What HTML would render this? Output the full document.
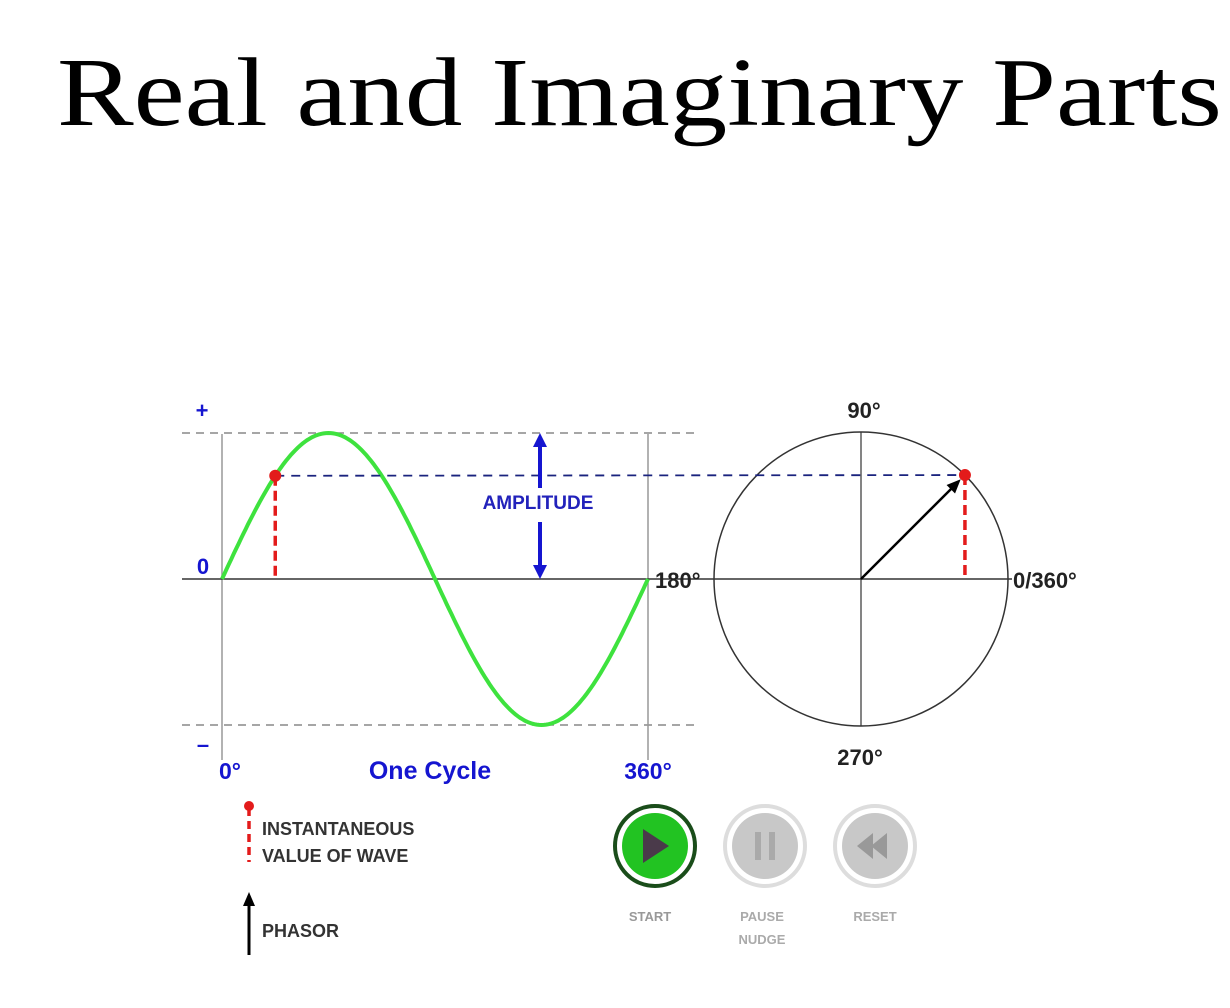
<!DOCTYPE html>
<html><head><meta charset="utf-8"><style>
html,body{margin:0;padding:0;background:#fff;}
svg{display:block;}
.b{font-family:"Liberation Sans",sans-serif;font-weight:bold;}
</style></head><body>
<svg id="c" width="1230" height="1008" viewBox="0 0 1230 1008" xmlns="http://www.w3.org/2000/svg">
<text x="57" y="125" font-family="Liberation Serif, serif" font-size="97" textLength="1165" lengthAdjust="spacingAndGlyphs" fill="#000">Real and Imaginary Parts</text>
<g id="plot"></g>
</svg>
<script>
const phaseDeg = [45];
const amplitude = [1];
const cycleTicks = ['0°', '360°'];
const circleLabels = ['90°', '180°', '270°', '0/360°'];

const NS = 'http://www.w3.org/2000/svg';
const g = document.getElementById('plot');
const x0 = 222, x1 = 648, y0 = 579, ampPx = 146;
const cx = 861, cy = 579, R = 147;
const xs = d => x0 + (d / 360) * (x1 - x0);
const ys = v => y0 - v * ampPx;
function mk(tag, attrs, txt) {
  const e = document.createElementNS(NS, tag);
  for (const k in attrs) e.setAttribute(k, attrs[k]);
  if (txt !== undefined) e.textContent = txt;
  g.appendChild(e);
  return e;
}
const A = amplitude[0];
const ph = phaseDeg[0];
let e;
// guides
e = mk('line', {x1: 182, y1: ys(A), x2: 695, y2: ys(A), stroke: '#888', 'stroke-width': 1.5, 'stroke-dasharray': '8 6'});
 
e = mk('line', {x1: 182, y1: ys(-A), x2: 695, y2: ys(-A), stroke: '#888', 'stroke-width': 1.5, 'stroke-dasharray': '8 6'});
 
e = mk('line', {x1: x0, y1: 434, x2: x0, y2: 760, stroke: '#999', 'stroke-width': 1.5});
 
e = mk('line', {x1: x1, y1: 434, x2: x1, y2: 760, stroke: '#999', 'stroke-width': 1.5});
 
e = mk('line', {x1: 182, y1: y0, x2: 1008, y2: y0, stroke: '#333', 'stroke-width': 1.5});
 
// circle
e = mk('circle', {cx: cx, cy: cy, r: R, fill: 'none', stroke: '#333', 'stroke-width': 1.5});
 
e = mk('line', {x1: cx, y1: cy - R, x2: cx, y2: cy + R, stroke: '#333', 'stroke-width': 1.2});
 
e = mk('line', {x1: 1008, y1: y0, x2: 1012, y2: y0, stroke: '#333', 'stroke-width': 1.5});
// wave
let d = '';
for (let a = 0; a <= 360; a += 2) d += (a ? 'L' : 'M') + xs(a).toFixed(1) + ' ' + ys(A * Math.sin(a * Math.PI / 180)).toFixed(1);
e = mk('path', {d: d, fill: 'none', stroke: '#3ee23e', 'stroke-width': 4});
 
// instantaneous value
const pv = A * Math.sin(ph * Math.PI / 180);
const px = xs(ph), py = ys(pv);
const qx = cx + R * A * Math.cos(ph * Math.PI / 180), qy = cy - R * A * Math.sin(ph * Math.PI / 180);
e = mk('line', {x1: px, y1: py, x2: qx, y2: qy, stroke: '#1a237e', 'stroke-width': 1.8, 'stroke-dasharray': '9 7'});
 
e = mk('line', {x1: px, y1: py, x2: px, y2: y0, stroke: '#e31b1b', 'stroke-width': 3.5, 'stroke-dasharray': '10 5'});
 
e = mk('line', {x1: qx, y1: qy, x2: qx, y2: y0, stroke: '#e31b1b', 'stroke-width': 3.5, 'stroke-dasharray': '10 5'});
 
// phasor arrow
const ang = Math.atan2(qy - cy, qx - cx);
const tx = qx - 6 * Math.cos(ang), ty = qy - 6 * Math.sin(ang);
e = mk('line', {x1: cx, y1: cy, x2: tx - 8 * Math.cos(ang), y2: ty - 8 * Math.sin(ang), stroke: '#000', 'stroke-width': 2.5});
 
const hl = 14, hw = 6;
const bx = tx - hl * Math.cos(ang), by = ty - hl * Math.sin(ang);
e = mk('polygon', {points: `${tx},${ty} ${bx + hw * Math.sin(ang)},${by - hw * Math.cos(ang)} ${bx - hw * Math.sin(ang)},${by + hw * Math.cos(ang)}`, fill: '#000'});
 
e = mk('circle', {cx: px, cy: py, r: 6, fill: '#e31b1b'});
 
e = mk('circle', {cx: qx, cy: qy, r: 6, fill: '#e31b1b'});
 
// amplitude arrow
const ax = 540;
e = mk('line', {x1: ax, y1: ys(A) + 10, x2: ax, y2: 488, stroke: '#1515d0', 'stroke-width': 4});
 
e = mk('polygon', {points: `${ax},${ys(A)} ${ax - 7},${ys(A) + 14} ${ax + 7},${ys(A) + 14}`, fill: '#1515d0'});
e = mk('line', {x1: ax, y1: 522, x2: ax, y2: y0 - 10, stroke: '#1515d0', 'stroke-width': 4});
 
e = mk('polygon', {points: `${ax},${y0} ${ax - 7},${y0 - 14} ${ax + 7},${y0 - 14}`, fill: '#1515d0'});
// labels
function lab(name, x, y, t, size, fill, anchor) {
  const el = mk('text', {x: x, y: y, 'font-size': size, fill: fill, 'text-anchor': anchor || 'start', class: 'b'}, t);
  
  
  return el;
}
lab('amplitude-label', 538, 509, 'AMPLITUDE', 19, '#2222bb', 'middle');
lab('plus-label', 202, 418, '+', 22, '#1515d0', 'middle');
lab('zero-label', 203, 574, '0', 22, '#1515d0', 'middle');
lab('minus-label', 203, 752, '–', 22, '#1515d0', 'middle');
lab('tick-0', 230, 779, cycleTicks[0], 23, '#1515d0', 'middle');
lab('tick-360', 648, 779, cycleTicks[1], 23, '#1515d0', 'middle');
lab('x-axis-title', 430, 779, 'One Cycle', 25, '#1515d0', 'middle');
lab('label-90', 864, 418, circleLabels[0], 22, '#222', 'middle');
lab('label-180', 655, 588, circleLabels[1], 22, '#222');
lab('label-270', 860, 765, circleLabels[2], 22, '#222', 'middle');
lab('label-0-360', 1013, 588, circleLabels[3], 22, '#222');
// legend
e = mk('line', {x1: 249, y1: 808, x2: 249, y2: 862, stroke: '#e31b1b', 'stroke-width': 3.5, 'stroke-dasharray': '8 5'});
 
e = mk('circle', {cx: 249, cy: 806, r: 5, fill: '#e31b1b'});
lab('legend-instantaneous-line1', 262, 835, 'INSTANTANEOUS', 18, '#333');
lab('legend-instantaneous-line2', 262, 862, 'VALUE OF WAVE', 18, '#333');
e = mk('line', {x1: 249, y1: 905, x2: 249, y2: 955, stroke: '#000', 'stroke-width': 3});
 
e = mk('polygon', {points: '249,892 243,906 255,906', fill: '#000'});
lab('legend-phasor', 262, 937, 'PHASOR', 18, '#333');
// buttons
function btn(name, x, fill, ring, inner) {
  const c1 = mk('circle', {cx: x, cy: 846, r: 40, fill: '#fff', stroke: ring, 'stroke-width': 4});
  
  
  mk('circle', {cx: x, cy: 846, r: 33, fill: fill});
}
btn('start-button', 655, '#22c322', '#1a4d1a');
mk('polygon', {points: '643,829 643,863 669,846', fill: '#4a3a4a'});
btn('pause-button', 765, '#c8c8c8', '#ddd');
mk('rect', {x: 755, y: 832, width: 6, height: 28, fill: '#aaa'});
mk('rect', {x: 769, y: 832, width: 6, height: 28, fill: '#aaa'});
btn('reset-button', 875, '#c8c8c8', '#ddd');
mk('polygon', {points: '857,846 873,833 873,859', fill: '#999'});
mk('polygon', {points: '871,846 887,833 887,859', fill: '#999'});
lab('start-label', 650, 921, 'START', 13, '#999', 'middle');
lab('pause-label', 762, 921, 'PAUSE', 13, '#aaa', 'middle');
lab('nudge-label', 762, 944, 'NUDGE', 13, '#aaa', 'middle');
lab('reset-label', 875, 921, 'RESET', 13, '#aaa', 'middle');
</script>
</body></html>
